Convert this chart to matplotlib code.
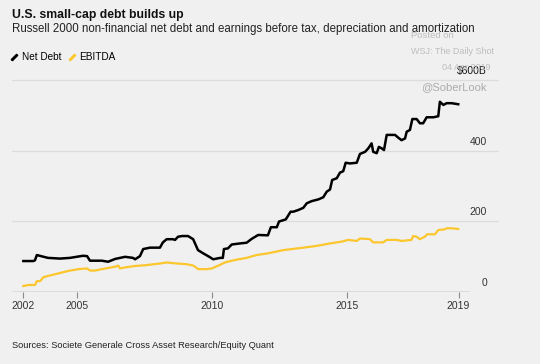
import matplotlib
matplotlib.use("Agg")
import matplotlib.pyplot as plt
from matplotlib.lines import Line2D

# ---- data (decimal year, $B) ----
debt_t = [2003.00, 2003.37, 2003.43, 2003.50, 2003.91, 2004.36, 2004.73, 2005.21, 2005.36,
          2005.47, 2005.91, 2006.14, 2006.40, 2006.77, 2007.06, 2007.14, 2007.32, 2007.44,
          2007.69, 2008.06, 2008.17, 2008.31, 2008.54, 2008.62, 2008.73, 2008.88, 2009.10,
          2009.29, 2009.47, 2009.66, 2009.91, 2010.03, 2010.29, 2010.39, 2010.43, 2010.58,
          2010.72, 2011.03, 2011.27, 2011.46, 2011.70, 2012.06, 2012.17, 2012.39, 2012.47,
          2012.63, 2012.72, 2012.90, 2013.00, 2013.19, 2013.37, 2013.50, 2013.68, 2013.93,
          2014.11, 2014.24, 2014.36, 2014.44, 2014.61, 2014.73, 2014.85, 2014.94, 2015.10,
          2015.35, 2015.47, 2015.66, 2015.78, 2015.90, 2015.96, 2016.09, 2016.17, 2016.27,
          2016.36, 2016.46, 2016.77, 2016.89, 2017.01, 2017.14, 2017.20, 2017.32, 2017.41,
          2017.57, 2017.69, 2017.81, 2017.94, 2018.19, 2018.37, 2018.43, 2018.56, 2018.68,
          2018.87, 2019.11]
net_debt = [87, 87, 89, 104, 96, 94, 96, 102, 101,
            88, 88, 85, 93, 99, 96, 92, 101, 121,
            125, 125, 140, 149, 149, 147, 156, 158, 158,
            149, 118, 109, 98, 92, 96, 96, 121, 123,
            134, 137, 139, 150, 161, 160, 183, 183, 199,
            203, 205, 227, 227, 232, 238, 251, 257, 262,
            268, 284, 290, 317, 322, 338, 342, 366, 364,
            366, 391, 397, 407, 421, 397, 393, 411, 407,
            402, 445, 445, 437, 430, 435, 454, 459, 490,
            490, 478, 478, 495, 495, 498, 539, 530, 535,
            535, 532]

ebitda_t = [2003.00, 2003.19, 2003.43, 2003.50, 2003.62, 2003.74, 2003.93, 2004.30, 2004.67,
            2005.04, 2005.35, 2005.47, 2005.66, 2005.90, 2006.40, 2006.52, 2006.58, 2006.77,
            2007.14, 2007.51, 2008.06, 2008.31, 2008.68, 2009.05, 2009.30, 2009.48, 2009.79,
            2009.98, 2010.22, 2010.47, 2010.84, 2011.27, 2011.64, 2012.07, 2012.63, 2013.37,
            2013.87, 2014.36, 2014.79, 2015.04, 2015.35, 2015.47, 2015.84, 2015.96, 2016.33,
            2016.46, 2016.83, 2017.01, 2017.38, 2017.44, 2017.57, 2017.69, 2017.87, 2017.96,
            2018.25, 2018.37, 2018.61, 2018.68, 2018.87, 2019.11]
ebitda = [16, 19, 19, 30, 30, 41, 45, 52, 59,
          64, 66, 60, 60, 64, 71, 74, 66, 69,
          73, 75, 80, 83, 80, 78, 74, 64, 64,
          66, 74, 83, 90, 96, 104, 109, 118, 125,
          130, 137, 142, 147, 144, 151, 149, 140, 140,
          147, 147, 144, 147, 158, 156, 149, 156, 163,
          163, 175, 177, 180, 180, 178]

x_ticks = [2003.0, 2005, 2010, 2015, 2019.12]
x_labels = ["2002", "2005", "2010", "2015", "2019"]
y_ticks = [0, 200, 400, 600]
y_labels = ["0", "200", "400", "$600B"]

BG = "#f0f0f0"
BLACK = "#000000"
YELLOW = "#fcc62d"

plt.rcParams["font.family"] = ["Liberation Sans", "DejaVu Sans"]

fig = plt.figure(figsize=(5.4, 3.64), dpi=100, facecolor=BG)
W, H = 540, 364
ax = fig.add_axes([12 / W, (H - 291.7) / H, 487 / W, 216.7 / H])
ax.set_facecolor(BG)

ax.set_xlim(2002.58, 2020.62)
ax.set_ylim(0, 615)

for v in y_ticks[1:]:
    ax.axhline(v, color="#dcdcdc", lw=0.9, zorder=1)
ax.axhline(0, xmin=0, xmax=(469 - 12) / 487, color="#8a8a8a", lw=1.0, zorder=2)

ax.plot(ebitda_t, ebitda, color=YELLOW, lw=1.6, zorder=3, solid_joinstyle="round")
ax.plot(debt_t, net_debt, color=BLACK, lw=1.8, zorder=4, solid_joinstyle="round")

for s in ax.spines.values():
    s.set_visible(False)
ax.set_xticks(x_ticks)
ax.set_xticklabels(x_labels)
ax.tick_params(axis="x", length=4, width=0.8, color="#8a8a8a", pad=3,
               labelsize=7.5, labelcolor="#333333")
ax.set_yticks([])

for v, lab in zip(y_ticks, y_labels):
    ax.annotate(lab, xy=((487 - 12) / 487, v), xycoords=("axes fraction", "data"),
                xytext=(0, 3), textcoords="offset points", ha="right", va="bottom",
                fontsize=7.5, color="#333333" if v < 600 else "#111111")

# titles
fig.text(12 / W, 1 - 15 / H, "U.S. small-cap debt builds up", fontsize=8.8,
         fontweight="bold", ha="left", va="center", color="#111111")
fig.text(12 / W, 1 - 29 / H,
         "Russell 2000 non-financial net debt and earnings before tax, depreciation and amortization",
         fontsize=8.3, ha="left", va="center", color="#222222")

# legend
handles = [Line2D([], [], color=BLACK, marker=(2, 2, -45), ls="none", ms=6, mew=1.8),
           Line2D([], [], color=YELLOW, marker=(2, 2, -45), ls="none", ms=6, mew=1.8)]
fig.legend(handles, ["Net Debt", "EBITDA"], loc="center left",
           bbox_to_anchor=(6 / W, 1 - 57 / H), ncol=2, frameon=False, fontsize=7.2,
           handlelength=0.8, handletextpad=0.4, columnspacing=0.6, borderaxespad=0)

# watermark
fig.text(411 / W, 1 - 36 / H, "Posted on", fontsize=6.8, color="#bdbdbd", ha="left", va="center")
fig.text(411 / W, 1 - 51 / H, "WSJ: The Daily Shot", fontsize=6.5, color="#bdbdbd", ha="left", va="center")
fig.text(490 / W, 1 - 67 / H, "04 Apr 2019", fontsize=6.5, color="#bdbdbd", ha="right", va="center")
fig.text(454 / W, 1 - 87 / H, "@SoberLook", fontsize=8, color="#ababab", ha="center", va="center")

fig.text(12 / W, 1 - 346 / H, "Sources: Societe Generale Cross Asset Research/Equity Quant",
         fontsize=6.65, ha="left", va="center", color="#222222")

fig.savefig("out.png", dpi=100, facecolor=BG)
